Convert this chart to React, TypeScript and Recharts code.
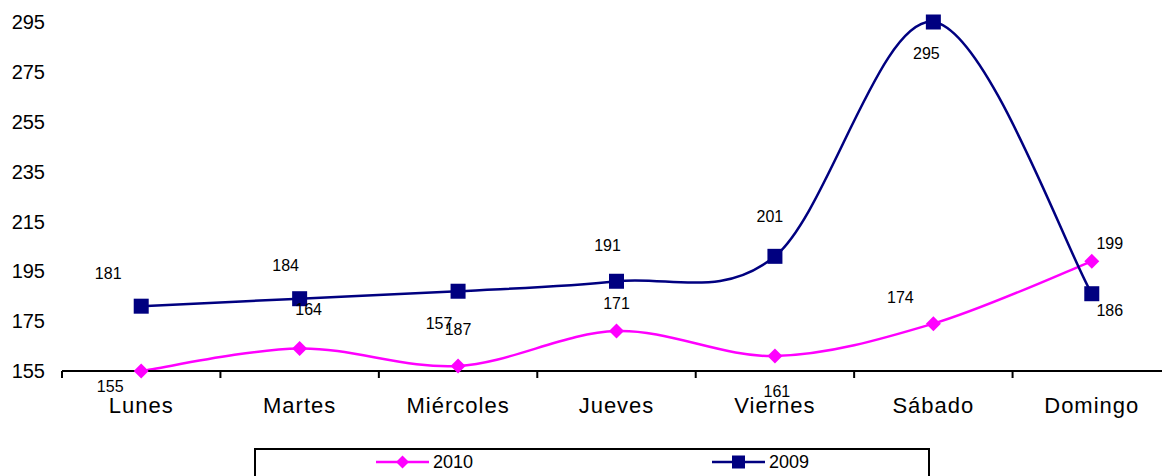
import React from 'react';
import { LineChart, Line, XAxis, YAxis, LabelList } from 'recharts';

const days = ['Lunes', 'Martes', 'Miércoles', 'Jueves', 'Viernes', 'Sábado', 'Domingo'];
const visits2010 = [155, 164, 157, 171, 161, 174, 199];
const visits2009 = [181, 184, 187, 191, 201, 295, 186];
const yTicks = [155, 175, 195, 215, 235, 255, 275, 295];

const FONT = '"Liberation Sans", Arial, Helvetica, sans-serif';
const NAVY = '#000080';
const MAGENTA = '#FF00FF';

const CHART_W = 1172;
const CHART_H = 447;
const Y_AXIS_W = 62;
const MARGIN = { top: 22, right: 1, left: 0, bottom: 16 };
const TICK_SIZE = 7;
const TICK_MARGIN = 19;

// label placement around each point (dx, dy), tuned by hand so labels don't collide
const offsets2010: [number, number][] = [[-31, 15], [9, -39], [-19, -43], [0, -28], [2, 35], [-33, -26], [18, -18]];
const offsets2009: [number, number][] = [[-33, -33], [-14, -33], [0, 38], [-9, -36], [-5, -40], [-7, 31], [18, 17]];

const data = days.map((day, i) => ({ day, y2010: visits2010[i], y2009: visits2009[i] }));

// Catmull-Rom style smoothing, close to what spreadsheet "smoothed line" charts do
function smoothCurve(context: any) {
  let pts: [number, number][] = [];
  return {
    areaStart() {},
    areaEnd() {},
    lineStart() {
      pts = [];
    },
    point(x: number, y: number) {
      pts.push([+x, +y]);
    },
    lineEnd() {
      if (!pts.length) return;
      context.moveTo(pts[0][0], pts[0][1]);
      for (let i = 0; i < pts.length - 1; i++) {
        const p0 = pts[i - 1] ?? pts[i];
        const p1 = pts[i];
        const p2 = pts[i + 1];
        const p3 = pts[i + 2] ?? p2;
        context.bezierCurveTo(
          p1[0] + (p2[0] - p0[0]) / 6,
          p1[1] + (p2[1] - p0[1]) / 6,
          p2[0] - (p3[0] - p1[0]) / 6,
          p2[1] - (p3[1] - p1[1]) / 6,
          p2[0],
          p2[1]
        );
      }
    },
  };
}

const SquareDot = (props: any) => {
  const { cx, cy, index } = props;
  if (cx == null || cy == null) return <g key={`sq-${index}`} />;
  return <rect key={`sq-${index}`} x={cx - 7.5} y={cy - 7.5} width={15} height={15} fill={NAVY} />;
};

const DiamondDot = (props: any) => {
  const { cx, cy, index } = props;
  if (cx == null || cy == null) return <g key={`dm-${index}`} />;
  const r = 7.5;
  return (
    <path
      key={`dm-${index}`}
      d={`M${cx},${cy - r} L${cx + r},${cy} L${cx},${cy + r} L${cx - r},${cy} Z`}
      fill={MAGENTA}
    />
  );
};

const makeLabel = (offsets: [number, number][]) => (props: any) => {
  const { x, y, value, index } = props;
  const [dx, dy] = offsets[index] ?? [0, -20];
  return (
    <text
      key={`lbl-${index}`}
      x={x + dx}
      y={y + dy}
      textAnchor="middle"
      dominantBaseline="central"
      fontSize={16}
      fontFamily={FONT}
      fill="#000"
    >
      {value}
    </text>
  );
};

// category labels centred in each band, tick marks on the band edges
const DayTick = (props: any) => {
  const { x, y, payload, index } = props;
  const band = (CHART_W - Y_AXIS_W - MARGIN.left - MARGIN.right) / days.length;
  const axisY = y - TICK_SIZE - TICK_MARGIN;
  const left = x - band / 2;
  return (
    <g>
      <line x1={left} y1={axisY} x2={left} y2={axisY + TICK_SIZE} stroke="#000" strokeWidth={2} />
      {index === days.length - 1 && (
        <line x1={left + band} y1={axisY} x2={left + band} y2={axisY + TICK_SIZE} stroke="#000" strokeWidth={2} />
      )}
      <text
        x={x}
        y={y}
        dy="0.71em"
        textAnchor="middle"
        fontSize={22}
        letterSpacing={1}
        fontFamily={FONT}
        fill="#000"
      >
        {payload.value}
      </text>
    </g>
  );
};

const LegendItem = ({ color, label, marker }: { color: string; label: string; marker: 'square' | 'diamond' }) => (
  <div style={{ flex: 1, display: 'flex', alignItems: 'center', paddingLeft: 120, height: 24 }}>
    <svg width={53} height={14}>
      <line x1={0} y1={7} x2={53} y2={7} stroke={color} strokeWidth={2.5} />
      {marker === 'square' ? (
        <rect x={20} y={0.5} width={13} height={13} fill={color} />
      ) : (
        <path d="M26.5,0.5 L33,7 L26.5,13.5 L20,7 Z" fill={color} />
      )}
    </svg>
    <span style={{ marginLeft: 4, fontSize: 18, fontFamily: FONT, color: '#000' }}>{label}</span>
  </div>
);

export default function App() {
  return (
    <div
      style={{
        position: 'fixed',
        left: 0,
        top: 0,
        width: 1162,
        height: 476,
        overflow: 'hidden',
        background: '#fff',
      }}
    >
      <LineChart width={CHART_W} height={CHART_H} data={data} margin={MARGIN}>
        <XAxis
          dataKey="day"
          scale="band"
          interval={0}
          height={60}
          axisLine={{ stroke: '#000', strokeWidth: 2 }}
          tickLine={false}
          tickSize={TICK_SIZE}
          tickMargin={TICK_MARGIN}
          tick={<DayTick />}
        />
        <YAxis
          type="number"
          domain={[155, 295]}
          ticks={yTicks}
          interval={0}
          width={Y_AXIS_W}
          axisLine={false}
          tickLine={false}
          tickSize={0}
          tickMargin={17}
          tick={{ fontSize: 20, fontFamily: FONT, fill: '#000' }}
        />
        <Line
          dataKey="y2010"
          name="2010"
          type={smoothCurve as any}
          stroke={MAGENTA}
          strokeWidth={2.5}
          dot={DiamondDot}
          activeDot={false}
          isAnimationActive={false}
        >
          <LabelList dataKey="y2010" content={makeLabel(offsets2010)} />
        </Line>
        <Line
          dataKey="y2009"
          name="2009"
          type={smoothCurve as any}
          stroke={NAVY}
          strokeWidth={2.5}
          dot={SquareDot}
          activeDot={false}
          isAnimationActive={false}
        >
          <LabelList dataKey="y2009" content={makeLabel(offsets2009)} />
        </Line>
      </LineChart>
      <div
        style={{
          position: 'absolute',
          left: 254,
          top: 448,
          width: 676,
          height: 34,
          border: '2px solid #000',
          boxSizing: 'border-box',
          display: 'flex',
          alignItems: 'flex-start',
          background: '#fff',
        }}
      >
        <LegendItem color={MAGENTA} label="2010" marker="diamond" />
        <LegendItem color={NAVY} label="2009" marker="square" />
      </div>
    </div>
  );
}
